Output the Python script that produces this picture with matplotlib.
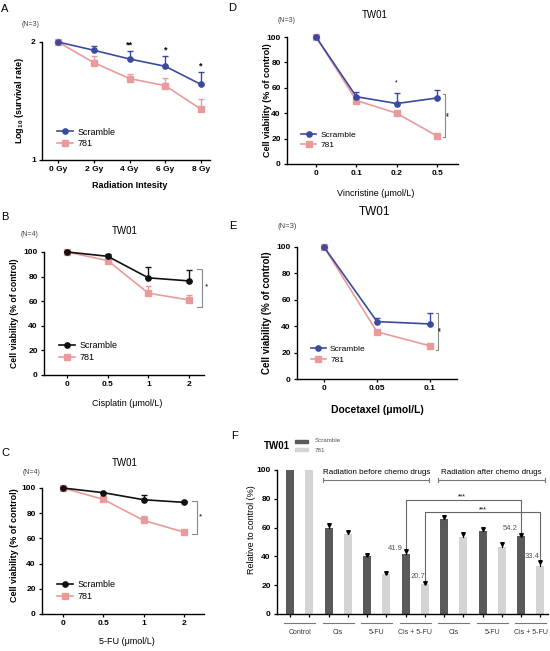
import numpy as np
import matplotlib
matplotlib.use("Agg")
import matplotlib.pyplot as plt
from matplotlib.patches import Rectangle
from matplotlib.lines import Line2D

plt.rcParams['font.family'] = ['Liberation Sans', 'DejaVu Sans']
plt.rcParams['mathtext.fontset'] = 'custom'
plt.rcParams['mathtext.rm'] = 'Liberation Sans'
plt.rcParams['mathtext.bf'] = 'Liberation Sans:bold'

# ---- data ----
rad_doses = ['0 Gy', '2 Gy', '4 Gy', '6 Gy', '8 Gy']
rad_scr = [2.0, 1.93, 1.856, 1.794, 1.64]
rad_scr_err = [0, 0.035, 0.065, 0.09, 0.11]
rad_781 = [2.0, 1.825, 1.69, 1.63, 1.43]
rad_781_err = [0, 0.055, 0.037, 0.065, 0.085]
rad_stars = ['', '', '**', '*', '*']

cis_doses = ['0', '0.5', '1', '2']
cis_scr = [100, 96.5, 79, 76.5]
cis_scr_err = [1, 1.5, 9, 9]
cis_781 = [100, 93, 66.5, 61]
cis_781_err = [0.5, 1, 6, 4]

fu_doses = ['0', '0.5', '1', '2']
fu_scr = [100, 96.3, 90.7, 88.6]
fu_scr_err = [0.8, 0.8, 4, 1]
fu_781 = [100, 91, 74.3, 65]
fu_781_err = [0.5, 1, 3.7, 1.7]

vin_doses = ['0', '0.1', '0.2', '0.5']
vin_scr = [100, 53, 47.6, 52]
vin_scr_err = [0, 4, 8.5, 6]
vin_781 = [100, 50, 40, 22]
vin_781_err = [0, 1, 1, 1]

doc_doses = ['0', '0.05', '0.1']
doc_scr = [100, 43.5, 41.7]
doc_scr_err = [0, 3, 8]
doc_781 = [100, 35.7, 25.1]
doc_781_err = [0, 1, 1]

f_groups = ['Control', 'Cis', '5-FU', 'Cis + 5-FU', 'Cis', '5-FU', 'Cis + 5-FU']
f_scr = [100, 60, 40, 41.9, 65.8, 57.5, 54.2]
f_scr_err = [0, 1.8, 0.7, 2, 1.7, 1.4, 0.6]
f_781 = [100, 55.7, 28, 20.7, 53.8, 46.4, 33.4]
f_781_err = [0, 1.4, 0.7, 0.7, 1.8, 2, 2.7]

BLUE = '#3c4a9e'
PINK = '#eb9a9c'
BLACK = '#111111'
DARK = '#5a5a5a'
LIGHT = '#d4d4d4'

W, H = 550, 651
fig = plt.figure(figsize=(W / 100, H / 100), dpi=100)


def px_axes(left, right, top, bottom):
    return fig.add_axes([left / W, 1 - bottom / H, (right - left) / W, (bottom - top) / H])


def ftext(x, y, s, **kw):
    kw.setdefault('ha', 'center')
    kw.setdefault('va', 'center')
    fig.text(x / W, 1 - y / H, s, **kw)


def style(ax):
    for s in ['top', 'right']:
        ax.spines[s].set_visible(False)
    for s in ['left', 'bottom']:
        ax.spines[s].set_linewidth(1.0)
    ax.tick_params(width=0.9, length=2.5, labelsize=6, pad=2)
    for lab in ax.get_xticklabels() + ax.get_yticklabels():
        lab.set_fontweight('bold')


def line_panel(ax, doses, scr, scr_err, v781, v781_err, scr_color):
    x = np.arange(len(doses))
    ax.errorbar(x, v781, yerr=[np.zeros(len(x)), v781_err], color=PINK, marker='s',
                ms=3.8, lw=1.2, capsize=2.2, elinewidth=1.0, capthick=1.0,
                clip_on=False, zorder=3)
    ax.errorbar(x, scr, yerr=[np.zeros(len(x)), scr_err], color=scr_color, marker='o',
                ms=3.8, lw=1.2, capsize=2.2, elinewidth=1.0, capthick=1.0,
                clip_on=False, zorder=4)
    ax.set_xticks(x)
    ax.set_xticklabels(doses)
    handles = [Line2D([0], [0], color=scr_color, marker='o', ms=3.8, lw=1.2),
               Line2D([0], [0], color=PINK, marker='s', ms=3.8, lw=1.2)]
    return handles, ['Scramble', '781']


def bracket(ax, x, x0, y1, y2):
    ax.plot([x0, x, x, x0], [y1, y1, y2, y2], color='#888888', lw=0.8, clip_on=False)


# ---- Panel A ----
axA = px_axes(42, 210, 42, 160)
h, l = line_panel(axA, rad_doses, rad_scr, rad_scr_err, rad_781, rad_781_err, BLUE)
axA.set_xlim(-0.45, 4.25)
axA.set_ylim(1, 2)
axA.set_yticks([1, 2])
style(axA)
for i, s in enumerate(rad_stars):
    if s:
        axA.text(i, rad_scr[i] + rad_scr_err[i] + 0.05, s, ha='center', va='center',
                 fontsize=6.5, fontweight='bold')
axA.legend(h, l, loc='lower left', bbox_to_anchor=(0.04, 0.03), frameon=False,
           fontsize=6.5, handlelength=1.8, handletextpad=0.5, labelspacing=0.3)
ftext(5, 9, 'A', fontsize=8)
ftext(31, 25, '(N=3)', fontsize=5, color='#444444')
ftext(20, 100, r'Log$_{\mathbf{10}}$ (survival rate)', rotation=90, fontsize=6.5, fontweight='bold')
ftext(130, 185, 'Radiation Intesity', fontsize=6.5, fontweight='bold')

# ---- Panel D ----
axD = px_axes(287, 458, 37, 164)
h, l = line_panel(axD, vin_doses, vin_scr, vin_scr_err, vin_781, vin_781_err, BLUE)
axD.set_xlim(-0.72, 3.52)
axD.set_ylim(0, 100)
axD.set_yticks([0, 20, 40, 60, 80, 100])
style(axD)
axD.text(2, 64, '*', ha='center', va='center', fontsize=5)
bracket(axD, 3.21, 3.14, 55, 21.3)
axD.text(3.31, 40, '**', ha='center', va='center', fontsize=5, rotation=90)
axD.legend(h, l, loc='lower left', bbox_to_anchor=(0.04, 0.06), frameon=False,
           fontsize=6, handlelength=1.8, handletextpad=0.5, labelspacing=0.3)
ftext(232, 8, 'D', fontsize=8)
ftext(287, 21, '(N=3)', fontsize=5, color='#444444')
ftext(375, 15, 'TW01', fontsize=7)
ftext(268, 100, 'Cell viability (% of control)', rotation=90, fontsize=6.5, fontweight='bold')
ftext(376, 193, 'Vincristine (\u03bcmol/L)', fontsize=6.5)

# ---- Panel B ----
axB = px_axes(44, 204, 252, 375)
h, l = line_panel(axB, cis_doses, cis_scr, cis_scr_err, cis_781, cis_781_err, BLACK)
axB.set_xlim(-0.57, 3.37)
axB.set_ylim(0, 100)
axB.set_yticks([0, 20, 40, 60, 80, 100])
style(axB)
bracket(axB, 3.31, 3.19, 86, 55)
axB.text(3.43, 72, '*', ha='center', va='center', fontsize=6)
axB.legend(h, l, loc='lower left', bbox_to_anchor=(0.04, 0.04), frameon=False,
           fontsize=6.5, handlelength=1.8, handletextpad=0.5, labelspacing=0.3)
ftext(5, 217, 'B', fontsize=8)
ftext(30, 235, '(N=4)', fontsize=5, color='#444444')
ftext(125, 231, 'TW01', fontsize=7)
ftext(15, 313, 'Cell viability (% of control)', rotation=90, fontsize=6.2, fontweight='bold')
ftext(127, 403, 'Cisplatin (\u03bcmol/L)', fontsize=6.5)

# ---- Panel E ----
axE = px_axes(297, 457, 247, 379)
h, l = line_panel(axE, doc_doses, doc_scr, doc_scr_err, doc_781, doc_781_err, BLUE)
axE.set_xlim(-0.51, 2.51)
axE.set_ylim(0, 100)
axE.set_yticks([0, 20, 40, 60, 80, 100])
style(axE)
bracket(axE, 2.16, 2.11, 50.3, 21.6)
axE.text(2.22, 38, '**', ha='center', va='center', fontsize=5, rotation=90)
axE.legend(h, l, loc='lower left', bbox_to_anchor=(0.04, 0.06), frameon=False,
           fontsize=6, handlelength=1.8, handletextpad=0.5, labelspacing=0.3)
ftext(233, 226, 'E', fontsize=8)
ftext(287, 227, '(N=3)', fontsize=5.5, color='#444444')
ftext(375, 212, 'TW01', fontsize=8.5)
ftext(267, 313, 'Cell viability (% of control)', rotation=90, fontsize=7, fontweight='bold')
ftext(377, 410, 'Docetaxel (\u03bcmol/L)', fontsize=7.5, fontweight='bold')

# ---- Panel C ----
axC = px_axes(42, 204, 488, 614)
h, l = line_panel(axC, fu_doses, fu_scr, fu_scr_err, fu_781, fu_781_err, BLACK)
axC.set_xlim(-0.52, 3.5)
axC.set_ylim(0, 100)
axC.set_yticks([0, 20, 40, 60, 80, 100])
style(axC)
bracket(axC, 3.32, 3.19, 89.7, 63.8)
axC.text(3.42, 77, '*', ha='center', va='center', fontsize=6)
axC.legend(h, l, loc='lower left', bbox_to_anchor=(0.04, 0.04), frameon=False,
           fontsize=6.5, handlelength=1.8, handletextpad=0.5, labelspacing=0.3)
ftext(5, 453, 'C', fontsize=8)
ftext(32, 472, '(N=4)', fontsize=5, color='#444444')
ftext(125, 463, 'TW01', fontsize=7)
ftext(15, 545, 'Cell viability (% of control)', rotation=90, fontsize=6.5, fontweight='bold')
ftext(127, 641, '5-FU (\u03bcmol/L)', fontsize=6.5)

# ---- Panel F ----
axF = px_axes(277, 548, 470, 614)
n = len(f_groups)
xs = np.arange(n) * 2
xr = xs + 1
bw = 0.42
axF.bar(xs, f_scr, width=bw, color=DARK, zorder=2)
axF.bar(xr, f_781, width=bw, color=LIGHT, zorder=2)
for xx, v, e in list(zip(xs, f_scr, f_scr_err)) + list(zip(xr, f_781, f_781_err)):
    if e > 0:
        axF.plot([xx, xx], [v, v + e], color='k', lw=0.8, zorder=3)
        axF.plot(xx, v + e, marker='v', color='k', ms=2.6, zorder=3)
axF.set_xlim(-0.68, 13.4)
axF.set_ylim(0, 100)
axF.set_yticks([0, 20, 40, 60, 80, 100])
axF.set_xticks(np.arange(2 * n))
axF.set_xticklabels([])
style(axF)
for i, g in enumerate(f_groups):
    axF.plot([2 * i - 0.3, 2 * i + 1.3], [-6.3, -6.3], color='#777777', lw=0.8, clip_on=False)
    axF.text(2 * i + 0.5, -12.5, g, ha='center', va='center', fontsize=5, color='#333333')
# section headers
for x0, x1, txt in [(1.72, 7.23, 'Radiation before chemo drugs'),
                    (7.7, 13.26, 'Radiation after chemo drugs')]:
    axF.plot([x0, x1], [93, 93], color='#777777', lw=0.8, clip_on=False)
    axF.plot([x0, x0], [91.5, 94.5], color='#777777', lw=0.8, clip_on=False)
    axF.plot([x1, x1], [91.5, 94.5], color='#777777', lw=0.8, clip_on=False)
    axF.text((x0 + x1) / 2, 98.6, txt, ha='center', va='center', fontsize=5.8, clip_on=False)
# significance brackets
axF.plot([6, 6, 12, 12], [44.5, 79.5, 79.5, 56], color='#666666', lw=0.8)
axF.text(8.9, 81, '***', ha='center', va='center', fontsize=5)
axF.plot([7, 7, 13, 13], [22.5, 70.8, 70.8, 37.5], color='#666666', lw=0.8)
axF.text(10, 72, '***', ha='center', va='center', fontsize=5)
for xx, yy, s in [(5.45, 45.8, '41.9'), (6.62, 25.7, '20.7'),
                  (11.42, 59.7, '54.2'), (12.58, 39.6, '33.4')]:
    axF.text(xx, yy, s, ha='center', va='center', fontsize=5.5, color='#555555')
ftext(234, 436, 'F', fontsize=8)
ftext(277, 446, 'TW01', fontsize=7, fontweight='bold')
fig.patches.append(Rectangle((295 / W, 1 - 443 / H), 13 / W, 3 / H, color=DARK,
                             transform=fig.transFigure, figure=fig))
fig.patches.append(Rectangle((295 / W, 1 - 451 / H), 13 / W, 3 / H, color=LIGHT,
                             transform=fig.transFigure, figure=fig))
ftext(315, 441, 'Scramble', fontsize=4.5, color='#555555', ha='left')
ftext(315, 450, '781', fontsize=4.5, color='#555555', ha='left')
ftext(252, 530, 'Relative to control (%)', rotation=90, fontsize=6.5)

fig.savefig('out.png', dpi=100)
